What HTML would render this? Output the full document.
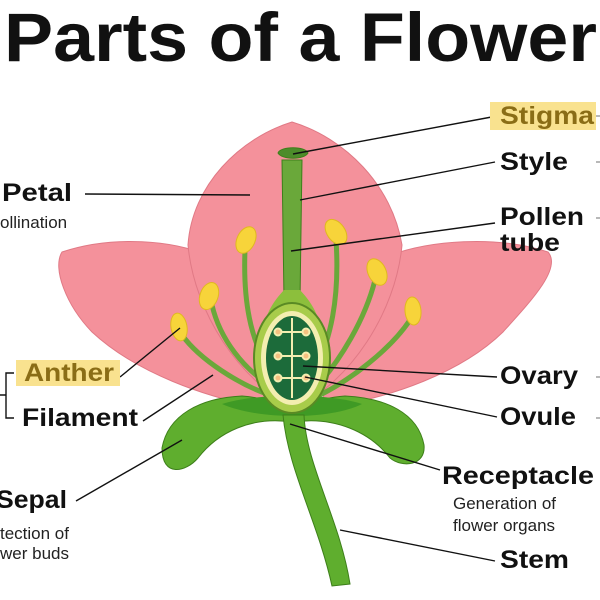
<!DOCTYPE html>
<html><head><style>
html,body{margin:0;padding:0;background:#fff;width:600px;height:600px;overflow:hidden}
text{font-family:"Liberation Sans",sans-serif}
</style></head><body>
<svg width="600" height="600" viewBox="0 0 600 600" xmlns="http://www.w3.org/2000/svg">
<text x="4" y="61" font-size="69" font-weight="bold" fill="#111" textLength="593" lengthAdjust="spacingAndGlyphs">Parts of a Flower</text>
<!-- side petals -->
<path d="M62,252 C110,236 175,238 218,260 C252,290 266,350 266,408 C205,398 135,372 92,332 C66,305 52,268 62,252Z" fill="#f4919b" stroke="#e07985" stroke-width="1"/>
<path d="M548,252 C500,236 428,238 378,260 C340,290 320,350 324,408 C392,398 462,372 503,332 C532,300 562,268 548,252Z" fill="#f4919b" stroke="#e07985" stroke-width="1"/>
<!-- center petal -->
<path d="M188,245 C192,185 240,138 292,122 C345,138 392,185 402,245 C396,312 350,382 295,408 C240,382 194,312 188,245Z" fill="#f4919b" stroke="#e07985" stroke-width="1"/>
<!-- filaments -->
<g stroke="#6aa83a" stroke-width="5" fill="none" stroke-linecap="round">
<path d="M245,250 C243,300 250,340 270,370"/>
<path d="M336,240 C340,300 330,340 315,370"/>
<path d="M212,305 C220,340 245,370 270,385"/>
<path d="M375,280 C365,320 340,360 318,385"/>
<path d="M182,335 C200,360 240,385 270,395"/>
<path d="M410,320 C390,350 350,380 320,395"/>
</g>
<!-- anthers -->
<g fill="#f7d43a" stroke="#e0b820" stroke-width="1">
<ellipse cx="246" cy="240" rx="9" ry="14" transform="rotate(25 246 240)"/>
<ellipse cx="336" cy="232" rx="9" ry="14" transform="rotate(-35 336 232)"/>
<ellipse cx="209" cy="296" rx="9" ry="14" transform="rotate(20 209 296)"/>
<ellipse cx="377" cy="272" rx="9" ry="14" transform="rotate(-25 377 272)"/>
<ellipse cx="179" cy="327" rx="8" ry="14" transform="rotate(-10 179 327)"/>
<ellipse cx="413" cy="311" rx="8" ry="14" transform="rotate(-5 413 311)"/>
</g>
<!-- sepals -->
<path d="M162,448 C168,415 200,398 242,396 C272,398 288,410 292,422 C252,416 218,432 198,458 C186,472 162,478 162,448Z" fill="#5fae2e" stroke="#3d7f1a" stroke-width="1"/>
<path d="M424,445 C418,413 386,398 345,396 C314,398 298,410 294,422 C334,416 370,432 390,458 C402,468 426,466 424,445Z" fill="#5fae2e" stroke="#3d7f1a" stroke-width="1"/>
<path d="M222,404 C255,393 330,393 362,404 C330,420 258,420 222,404Z" fill="#3f9a25"/>
<!-- stem -->
<path d="M283,415 C288,470 318,522 332,586 L350,584 C340,520 306,465 304,415Z" fill="#5fae2e" stroke="#3d7f1a" stroke-width="1"/>
<!-- style -->
<path d="M282,160 L302,160 L300,300 L284,300Z" fill="#6aa83a" stroke="#3d7f1a" stroke-width="1"/>
<path d="M278,153 C280,146 306,146 308,153 C304,160 282,160 278,153Z" fill="#4c8c2a" stroke="#3d7f1a"/>
<path d="M284,290 C270,305 262,320 262,345 L322,345 C322,320 314,305 300,290Z" fill="#8cbf3c"/>
<!-- ovary -->
<ellipse cx="292" cy="358" rx="38" ry="55" fill="#a8cc4a" stroke="#5a8a24" stroke-width="2"/>
<ellipse cx="292" cy="358" rx="31" ry="47" fill="#f3eeb0"/>
<ellipse cx="292" cy="358" rx="26" ry="42" fill="#1c6b3a"/>
<g stroke="#f3eeb0" stroke-width="2" fill="#f5c080">
<line x1="292" y1="318" x2="292" y2="398"/>
<line x1="278" y1="332" x2="306" y2="332"/>
<line x1="278" y1="356" x2="306" y2="356"/>
<line x1="278" y1="378" x2="306" y2="378"/>
<circle cx="278" cy="332" r="3.5"/><circle cx="306" cy="332" r="3.5"/>
<circle cx="278" cy="356" r="3.5"/><circle cx="306" cy="356" r="3.5"/>
<circle cx="278" cy="378" r="3.5"/><circle cx="306" cy="378" r="3.5"/>
</g>
<!-- leader lines -->
<g stroke="#111" stroke-width="1.4">
<line x1="497" y1="116" x2="293" y2="154"/>
<line x1="495" y1="162" x2="300" y2="200"/>
<line x1="495" y1="223" x2="291" y2="251"/>
<line x1="85" y1="194" x2="250" y2="195"/>
<line x1="120" y1="377" x2="180" y2="328"/>
<line x1="143" y1="421" x2="213" y2="375"/>
<line x1="76" y1="501" x2="182" y2="440"/>
<line x1="497" y1="377" x2="303" y2="366"/>
<line x1="497" y1="417" x2="305" y2="377"/>
<line x1="440" y1="470" x2="290" y2="424"/>
<line x1="495" y1="561" x2="340" y2="530"/>
</g>
<!-- bracket -->
<path d="M14,373 L6,373 L6,418 L14,418 M6,395 L0,395" stroke="#111" stroke-width="1.4" fill="none"/>
<!-- highlights -->
<rect x="490" y="102" width="106" height="28" fill="#f9e28f"/>
<rect x="16" y="360" width="104" height="26" fill="#f9e28f"/>
<g font-weight="bold" fill="#111" font-size="25">
<text x="500" y="124" fill="#8a6d16" textLength="94" lengthAdjust="spacingAndGlyphs">Stigma</text>
<text x="500" y="170" textLength="68" lengthAdjust="spacingAndGlyphs">Style</text>
<text x="500" y="225" textLength="84" lengthAdjust="spacingAndGlyphs">Pollen</text>
<text x="500" y="251" textLength="60" lengthAdjust="spacingAndGlyphs">tube</text>
<text x="500" y="384" textLength="78" lengthAdjust="spacingAndGlyphs">Ovary</text>
<text x="500" y="425" textLength="76" lengthAdjust="spacingAndGlyphs">Ovule</text>
<text x="442" y="484" textLength="152" lengthAdjust="spacingAndGlyphs">Receptacle</text>
<text x="500" y="568" textLength="69" lengthAdjust="spacingAndGlyphs">Stem</text>
<text x="2" y="201" textLength="70" lengthAdjust="spacingAndGlyphs">Petal</text>
<text x="24" y="381" fill="#8a6d16" textLength="90" lengthAdjust="spacingAndGlyphs">Anther</text>
<text x="22" y="426" textLength="116" lengthAdjust="spacingAndGlyphs">Filament</text>
<text x="-4" y="508" textLength="71" lengthAdjust="spacingAndGlyphs">Sepal</text>
</g>
<g fill="#222" font-size="17">
<text x="0" y="228">ollination</text>
<text x="453" y="509">Generation of</text>
<text x="453" y="531">flower organs</text>
<text x="0" y="539">tection of</text>
<text x="0" y="559">wer buds</text>
</g>
<g stroke="#999" stroke-width="1.4">
<line x1="596" y1="116" x2="600" y2="116"/><line x1="596" y1="162" x2="600" y2="162"/>
<line x1="596" y1="218" x2="600" y2="218"/><line x1="596" y1="377" x2="600" y2="377"/>
<line x1="596" y1="418" x2="600" y2="418"/>
</g>
</svg>
</body></html>
